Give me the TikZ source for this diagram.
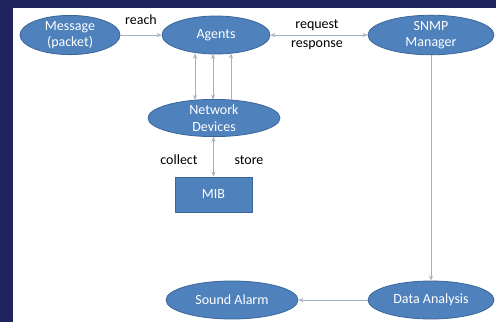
\documentclass[tikz,border=0pt]{standalone}
\usepackage{fontspec}
\setmainfont{Carlito}
\usetikzlibrary{arrows.meta,shapes.geometric}
\definecolor{navy}{HTML}{20245E}
\definecolor{boxblue}{HTML}{4F81BD}
\definecolor{boxedge}{HTML}{3B6699}
\definecolor{linegray}{HTML}{A3B0C2}
\tikzset{
  oval/.style={ellipse, fill=boxblue, draw=boxedge, line width=0.8pt, text=white, inner sep=0pt, font=\fontsize{14}{16.5}\selectfont, align=center},
  rectbox/.style={rectangle, fill=boxblue, draw=boxedge, line width=0.8pt, text=white, font=\fontsize{14}{16}\selectfont},
  conn/.style={draw=linegray, line width=0.8pt, -{Stealth[length=5pt,width=4pt,open]}},
  conn2/.style={draw=linegray, line width=0.8pt, {Stealth[length=5pt,width=4pt,open]}-{Stealth[length=5pt,width=4pt,open]}},
  lbl/.style={text=black, font=\fontsize{14}{16}\selectfont, inner sep=0pt}
}
\begin{document}
\begin{tikzpicture}[x=1pt,y=-1pt]
\useasboundingbox (0,0) rectangle (496,322);
\fill[navy] (0,0) rectangle (496,322);
\fill[white] (13,8) rectangle (496,322);

\node[oval, minimum width=100pt, minimum height=37pt] (msg) at (70,35) {Message\\(packet)};
\node[oval, minimum width=108pt, minimum height=38pt] (ag) at (216,35) {Agents};
\node[oval, minimum width=126pt, minimum height=38pt] (snmp) at (431,35) {SNMP\\Manager};
\node[oval, minimum width=132pt, minimum height=37pt] (net) at (214,118) {Network\\Devices};
\node[rectbox, minimum width=77pt, minimum height=35pt] (mib) at (213.5,194.5) {MIB};
\node[oval, minimum width=132pt, minimum height=38pt] (alarm) at (232,300) {Sound Alarm};
\node[oval, minimum width=126pt, minimum height=38pt] (data) at (431,300) {Data Analysis};

\draw[conn] (msg) -- (ag);
\node[lbl] (reach) at (141,20) {reach};
\draw[conn2] (ag) -- (snmp);
\node[lbl] (req) at (317,25) {request};
\node[lbl] (resp) at (317,45) {response};

\coordinate (a1) at (195,53.5);
\coordinate (b1) at (195,100);
\coordinate (a2) at (213,54);
\coordinate (b2) at (213,99.5);
\coordinate (a3) at (231,53.5);
\coordinate (b3) at (231,100);
\draw[conn2] (b1) -- (a1);
\draw[conn2] (b2) -- (a2);
\draw[conn] (b3) -- (a3);

\draw[conn2] (net.south -| mib.north) -- (mib.north);
\node[lbl] (coll) at (179,160) {collect};
\node[lbl] (store) at (249,160) {store};

\draw[conn] (snmp.south) -- (data.north);
\draw[conn] (data) -- (alarm);
\end{tikzpicture}
\end{document}
